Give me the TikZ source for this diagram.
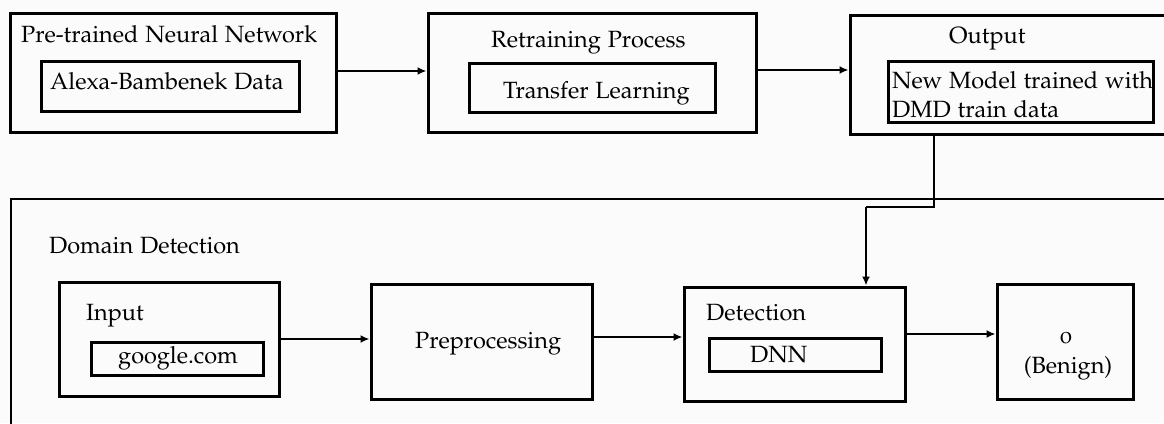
\documentclass[tikz,border=0pt]{standalone}
\usepackage[T1]{fontenc}
\usepackage[osf]{mathpazo}
\usetikzlibrary{arrows.meta}
\begin{document}
\begin{tikzpicture}[x=1pt,y=-1pt,
  box/.style={draw=black,line width=3pt,inner sep=0pt},
  lbl/.style={inner sep=0pt,anchor=base west,font=\fontsize{23.5}{28}\selectfont},
  flow/.style={line width=2.6pt,-{Latex[length=9pt,width=8pt]}},
  wire/.style={line width=2.6pt}]
  \fill[white!98.5!black] (0,0) rectangle (1164,423);
  \useasboundingbox (0,0) rectangle (1164,423);
  \begin{scope}
    \clip (0,0) rectangle (1164,423);
    % top row
    \node[box,minimum width=326pt,minimum height=119pt] (pre) at (173,72.5) {};
    \node[lbl] (pretxt) at (21,42) {Pre-trained Neural Network};
    \node[box,minimum width=258pt,minimum height=50pt] (alexa) at (170,86) {};
    \node[lbl] (alexatxt) at (50,89) {Alexa-Bambenek Data};

    \node[box,minimum width=328pt,minimum height=119pt] (retr) at (592,72.5) {};
    \node[lbl] (retrtxt) at (491,47) {Retraining Process};
    \node[box,minimum width=246pt,minimum height=49pt] (tl) at (592,87.5) {};
    \node[lbl] (tltxt) at (503,98) {Transfer Learning};

    \node[box,minimum width=340pt,minimum height=119pt] (out) at (1020,74.5) {};
    \node[lbl] (outtxt) at (949,43) {Output};
    \node[box,minimum width=265pt,minimum height=61pt] (nm) at (1020.5,91.5) {};
    \node[lbl] (nmtxt1) at (892,88) {New Model trained with};
    \node[lbl] (nmtxt2) at (892,117) {DMD train data};

    % domain detection frame
    \draw[line width=2.8pt] (11,430) -- (11,199) -- (1170,199);
    \node[lbl] (ddtxt) at (49,253) {Domain Detection};

    \node[box,minimum width=220pt,minimum height=114pt] (inp) at (169,339) {};
    \node[lbl] (inptxt) at (86,320) {Input};
    \node[box,minimum width=172pt,minimum height=33pt] (goo) at (177,358.5) {};
    \node[lbl] (gootxt) at (118,363) {google.com};

    \node[box,minimum width=221pt,minimum height=115pt] (prep) at (481.5,341.5) {};
    \node[lbl] (preptxt) at (415,348) {Preprocessing};

    \node[box,minimum width=221pt,minimum height=114pt] (det) at (794.5,344) {};
    \node[lbl] (dettxt) at (706,320) {Detection};
    \node[box,minimum width=172pt,minimum height=33pt] (dnn) at (795,354.5) {};
    \node[lbl] (dnntxt) at (750,362) {DNN};

    \node[box,minimum width=136pt,minimum height=115pt] (ben) at (1065,341.5) {};
    \node[lbl,anchor=base] (bentxt1) at (1066,343) {0};
    \node[lbl,anchor=base] (bentxt2) at (1068,373) {(Benign)};

    % connectors
    \draw[flow] (pre.east |- 0,71) -- (retr.west |- 0,71);
    \draw[flow] (retr.east |- 0,70) -- (out.west |- 0,70);
    \coordinate (j1) at (934,207);
    \coordinate (j2) at (866,207);
    \draw[wire] (out.south -| j1) -- (j1) -- (j2);
    \draw[flow] (j2) -- (det.north -| j2);
    \draw[flow] (inp.east |- 0,339) -- (prep.west |- 0,339);
    \draw[flow] (prep.east |- 0,337) -- (det.west |- 0,337);
    \draw[flow] (det.east |- 0,334) -- (ben.west |- 0,334);
  \end{scope}
\end{tikzpicture}
\end{document}
